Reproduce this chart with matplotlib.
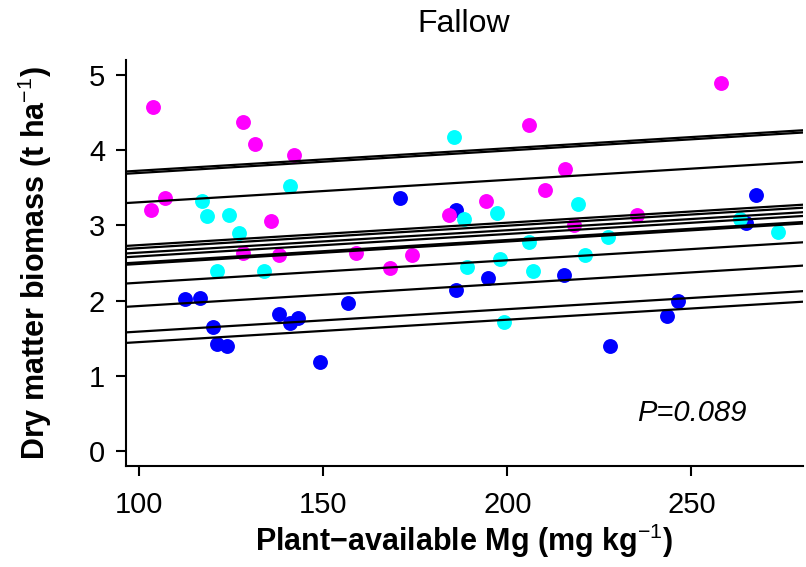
import numpy as np
import matplotlib
matplotlib.use('Agg')
import matplotlib.pyplot as plt

# fonts: Arial-like look of the original R figure
plt.rcParams['font.family'] = ['Liberation Sans', 'DejaVu Sans']
plt.rcParams['mathtext.fontset'] = 'custom'
plt.rcParams['mathtext.rm'] = 'Liberation Sans'
plt.rcParams['mathtext.it'] = 'Liberation Sans:italic'
plt.rcParams['mathtext.bf'] = 'Liberation Sans:bold'

# point data (Mg in mg/kg, biomass in t/ha)
blue_mg = [112.3, 116.6, 120.0, 121.0, 123.9, 137.9, 141.0, 143.1, 149.0, 156.6,
           170.8, 186.1, 186.1, 194.6, 215.3, 227.9, 243.3, 246.3, 264.8, 267.5]
blue_dm = [2.02, 2.04, 1.65, 1.42, 1.40, 1.82, 1.70, 1.77, 1.18, 1.97,
           3.36, 3.21, 2.14, 2.30, 2.34, 1.39, 1.80, 1.99, 3.03, 3.40]

cyan_mg = [117.0, 118.4, 121.0, 124.5, 127.0, 134.0, 141.0, 185.6, 188.2, 189.0,
           197.1, 198.1, 199.0, 205.8, 207.0, 219.1, 221.2, 227.3, 263.1, 273.5]
cyan_dm = [3.32, 3.12, 2.39, 3.14, 2.90, 2.39, 3.52, 4.17, 3.08, 2.45,
           3.16, 2.55, 1.72, 2.78, 2.39, 3.28, 2.61, 2.85, 3.08, 2.91]

magenta_mg = [103.7, 103.2, 106.9, 128.1, 131.3, 142.0, 135.7, 128.1, 138.0, 159.0,
              168.0, 174.0, 184.2, 194.1, 205.9, 210.1, 215.6, 218.2, 235.2, 258.1]
magenta_dm = [4.57, 3.21, 3.37, 4.38, 4.08, 3.94, 3.06, 2.63, 2.60, 2.63,
              2.44, 2.60, 3.14, 3.33, 4.34, 3.47, 3.75, 3.00, 3.14, 4.89]

# fitted lines: common slope, one intercept per line
slope = 0.00298
intercepts = [3.43, 3.40, 3.01, 2.44, 2.40, 2.34, 2.29, 2.21, 2.19, 1.94, 1.63, 1.29, 1.15]

x_ticks = [100, 150, 200, 250]
y_ticks = [0, 1, 2, 3, 4, 5]

fig = plt.figure(figsize=(8.06, 5.67), dpi=100)
ax = fig.add_axes([126 / 806, 101 / 567, 677 / 806, 406 / 567])

# points
ax.scatter(blue_mg, blue_dm, s=115, color='#0000ff', linewidths=0, zorder=2)
ax.scatter(cyan_mg, cyan_dm, s=115, color='#00ffff', linewidths=0, zorder=2)
ax.scatter(magenta_mg, magenta_dm, s=115, color='#ff00ff', linewidths=0, zorder=2)

# R style axis range: data range + 4%
all_x = blue_mg + cyan_mg + magenta_mg
xr = max(all_x) - min(all_x)
ax.set_xlim(min(all_x) - 0.04 * xr, max(all_x) + 0.04 * xr)
ax.set_ylim(-0.2, 5.2)

# regression lines across the full x range (like abline)
xl = np.array(ax.get_xlim())
for a in intercepts:
    ax.plot(xl, a + slope * xl, color='black', lw=1.6, zorder=3)

ax.text(250, 0.5, 'P=0.089', style='italic', ha='center', va='center', fontsize=21)

# axes look
ax.spines['top'].set_visible(False)
ax.spines['right'].set_visible(False)
ax.spines['left'].set_linewidth(1.5)
ax.spines['bottom'].set_linewidth(1.5)
ax.set_xticks(x_ticks)
ax.set_yticks(y_ticks)
ax.tick_params(direction='out', length=7, width=1.5, labelsize=21)
ax.tick_params(axis='x', pad=11)
ax.tick_params(axis='y', pad=8)

ax.set_xlabel('Plant\u2212available Mg (mg kg$^{\u22121}$)', fontsize=22, fontweight='bold')
ax.set_ylabel('Dry matter biomass (t ha$^{\u22121}$)', fontsize=22, fontweight='bold')
ax.xaxis.label.set_va('center')
ax.yaxis.label.set_va('center')
ax.xaxis.set_label_coords(0.5, -0.185)
ax.yaxis.set_label_coords(-0.134, 0.5)

fig.text(464 / 806, 1 - 24 / 567, 'Fallow', ha='center', va='center', fontsize=23)

fig.savefig('out.png', dpi=100)
